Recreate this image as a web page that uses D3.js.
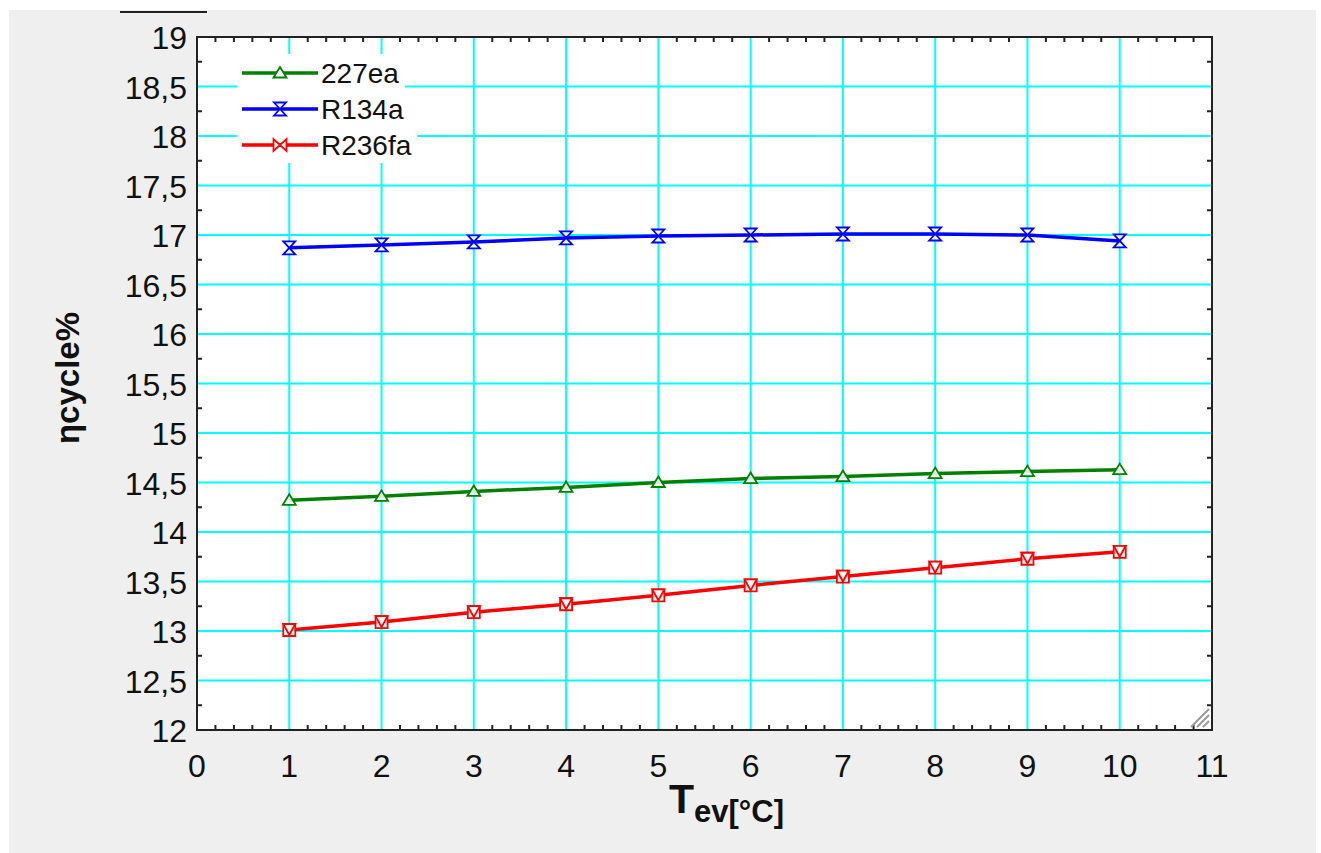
<!DOCTYPE html>
<html>
<head>
<meta charset="utf-8">
<script src="https://cdn.jsdelivr.net/npm/d3@7"></script>
<style>
  html, body { margin: 0; padding: 0; background: #ffffff; }
  svg { display: block; }
  text { font-family: "Liberation Sans", Arial, sans-serif; fill: #111; }
  .tickLabel { font-size: 32px; }
  .legendText { font-size: 28px; }
  .axisTitle { font-weight: bold; }
</style>
</head>
<body>
<div id="chart"></div>
<script>
"use strict";

// evaporator temperature [°C]
let temps = [1, 2, 3, 4, 5, 6, 7, 8, 9, 10];

// cycle efficiency [%]
let r227ea = [14.32, 14.36, 14.41, 14.45, 14.50, 14.54, 14.56, 14.59, 14.61, 14.63];
let r134a = [16.87, 16.90, 16.93, 16.97, 16.99, 17.00, 17.01, 17.01, 17.00, 16.94];
let r236fa = [13.01, 13.09, 13.19, 13.27, 13.36, 13.46, 13.55, 13.64, 13.73, 13.80];

let seriesNames = ["227ea", "R134a", "R236fa"];

let xTicks = [0, 1, 2, 3, 4, 5, 6, 7, 8, 9, 10, 11];
let yTicks = [12, 12.5, 13, 13.5, 14, 14.5, 15, 15.5, 16, 16.5, 17, 17.5, 18, 18.5, 19];

let width = 1321;
let height = 853;

let plot = { left: 197, right: 1212, top: 37, bottom: 730 };

let svg = d3.select("#chart").append("svg")
  .attr("width", width)
  .attr("height", height)
  .attr("viewBox", [0, 0, width, height].join(" "));

// grey window background
svg.append("rect")
  .attr("x", 9)
  .attr("y", 10)
  .attr("width", 1307)
  .attr("height", 843)
  .attr("fill", "#efefef");

// stray line at top left
svg.append("line")
  .attr("x1", 120).attr("x2", 207)
  .attr("y1", 12).attr("y2", 12)
  .attr("stroke", "#222")
  .attr("stroke-width", 2);

let x = d3.scaleLinear()
  .domain([0, 11])
  .range([plot.left, plot.right]);

let y = d3.scaleLinear()
  .domain([12, 19])
  .range([plot.bottom, plot.top]);

// plot area
svg.append("rect")
  .attr("x", plot.left)
  .attr("y", plot.top)
  .attr("width", plot.right - plot.left)
  .attr("height", plot.bottom - plot.top)
  .attr("fill", "#ffffff");

// grid
let grid = svg.append("g");

grid.selectAll(".vGrid")
  .data(xTicks.slice(1, -1))
  .enter().append("line")
  .attr("x1", d => x(d)).attr("x2", d => x(d))
  .attr("y1", plot.top).attr("y2", plot.bottom)
  .attr("stroke", "#00ffff")
  .attr("stroke-width", 2);

grid.selectAll(".hGrid")
  .data(yTicks.slice(1, -1))
  .enter().append("line")
  .attr("x1", plot.left).attr("x2", plot.right)
  .attr("y1", d => y(d)).attr("y2", d => y(d))
  .attr("stroke", "#00ffff")
  .attr("stroke-width", 2);

// minor ticks, drawn inside on all four sides
let minorX = d3.range(0, 55).map(i => i / 5).filter(d => d % 1 !== 0 && d < 11);
let minorY = d3.range(0, 28).map(i => 12 + i / 4).filter(d => (d * 2) % 1 !== 0);
let tickLen = 5;

let ticks = svg.append("g")
  .attr("stroke", "#222")
  .attr("stroke-width", 2);

minorX.forEach(function(d) {
  ticks.append("line")
    .attr("x1", x(d)).attr("x2", x(d))
    .attr("y1", plot.top).attr("y2", plot.top + tickLen);
  ticks.append("line")
    .attr("x1", x(d)).attr("x2", x(d))
    .attr("y1", plot.bottom).attr("y2", plot.bottom - tickLen);
});

minorY.forEach(function(d) {
  ticks.append("line")
    .attr("x1", plot.left).attr("x2", plot.left + tickLen)
    .attr("y1", y(d)).attr("y2", y(d));
  ticks.append("line")
    .attr("x1", plot.right).attr("x2", plot.right - tickLen)
    .attr("y1", y(d)).attr("y2", y(d));
});

// resize grip in corner
let grip = svg.append("g")
  .attr("stroke", "#999")
  .attr("stroke-width", 2);

[6, 12, 18].forEach(function(o) {
  grip.append("line")
    .attr("x1", plot.right - 3 - o).attr("y1", plot.bottom - 3)
    .attr("x2", plot.right - 3).attr("y2", plot.bottom - 3 - o);
});

// frame
svg.append("rect")
  .attr("x", plot.left)
  .attr("y", plot.top)
  .attr("width", plot.right - plot.left)
  .attr("height", plot.bottom - plot.top)
  .attr("fill", "none")
  .attr("stroke", "#222")
  .attr("stroke-width", 2);

// tick labels
let fmt = d => String(d).replace(".", ",");

svg.selectAll(".yLabel")
  .data(yTicks)
  .enter().append("text")
  .attr("class", "tickLabel")
  .attr("x", plot.left - 10)
  .attr("y", d => y(d) + 12)
  .style("text-anchor", "end")
  .text(fmt);

svg.selectAll(".xLabel")
  .data(xTicks)
  .enter().append("text")
  .attr("class", "tickLabel")
  .attr("x", d => x(d))
  .attr("y", plot.bottom + 47)
  .style("text-anchor", "middle")
  .text(fmt);

// axis titles
svg.append("text")
  .attr("class", "axisTitle")
  .attr("transform", "translate(79, 378) rotate(-90)")
  .style("text-anchor", "middle")
  .style("font-size", "33px")
  .text("ηcycle%");

let xTitle = svg.append("text")
  .attr("class", "axisTitle")
  .attr("x", 669)
  .attr("y", 813);

xTitle.append("tspan")
  .style("font-size", "41px")
  .text("T");

xTitle.append("tspan")
  .style("font-size", "31px")
  .attr("dy", 9)
  .text("ev[°C]");

// markers
let triangle = "M0,-6L6.5,4.5L-6.5,4.5Z";
let hourglass = "M-6,-6.5L6,-6.5L-6,6.5L6,6.5Z";
let bowtie = "M-6.5,-6L-6.5,6L6.5,-6L6.5,6Z";
let boxMark = "M-6,-6L6,-6L6,6L-6,6Z";

let series = [
  { name: seriesNames[0], values: r227ea, color: "#008000", marks: [triangle], legendMarks: [triangle] },
  { name: seriesNames[1], values: r134a, color: "#0000ff", marks: [hourglass], legendMarks: [hourglass] },
  { name: seriesNames[2], values: r236fa, color: "#ff0000", marks: [boxMark, "M-6,-6L6,-6L0,5Z"], legendMarks: [bowtie] }
];

let line = d3.line()
  .x(d => x(d[0]))
  .y(d => y(d[1]));

series.forEach(function(s) {
  let pts = temps.map((t, i) => [t, s.values[i]]);

  svg.append("path")
    .attr("d", line(pts))
    .attr("fill", "none")
    .attr("stroke", s.color)
    .attr("stroke-width", 3.5);

  let g = svg.append("g");
  pts.forEach(function(p) {
    s.marks.forEach(function(m) {
      g.append("path")
        .attr("transform", `translate(${x(p[0])}, ${y(p[1])})`)
        .attr("d", m)
        .attr("fill", "#ffffff")
        .attr("fill-opacity", 0.85)
        .attr("stroke", s.color)
        .attr("stroke-width", 1.8);
    });
  });
});

// legend
let legendTop = 54;
let rowH = 36;

let legend = svg.append("g");

series.forEach(function(s, i) {
  let cy = legendTop + rowH * i + 19;
  let row = legend.append("g");

  let bg = row.append("rect")
    .attr("x", 237)
    .attr("y", legendTop + rowH * i)
    .attr("height", rowH + 1)
    .attr("fill", "#ffffff");

  row.append("line")
    .attr("x1", 242).attr("x2", 318)
    .attr("y1", cy).attr("y2", cy)
    .attr("stroke", s.color)
    .attr("stroke-width", 3.5);

  s.legendMarks.forEach(function(m) {
    row.append("path")
      .attr("transform", `translate(280, ${cy})`)
      .attr("d", m)
      .attr("fill", "#ffffff")
      .attr("stroke", s.color)
      .attr("stroke-width", 1.8);
  });

  let t = row.append("text")
    .attr("class", "legendText")
    .attr("x", 321)
    .attr("y", cy + 10)
    .text(s.name);

  bg.attr("width", 321 + t.node().getComputedTextLength() + 6 - 237);
});
</script>
</body>
</html>
